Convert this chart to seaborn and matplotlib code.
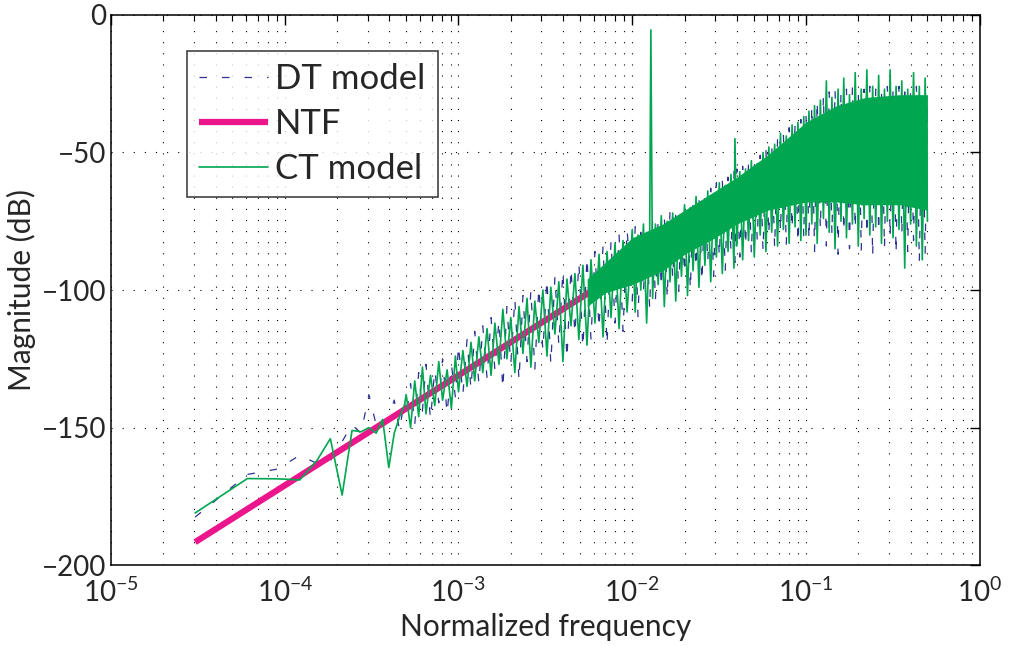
import matplotlib
matplotlib.use("Agg")
import matplotlib.pyplot as plt
import seaborn as sns
import pandas as pd

# ============================
# Dados (valores estimados)
# ============================
# primeiros bins da FFT (pontos isolados)
f_low = [3.05e-5, 6.1e-5, 9.16e-5, 1.22e-4, 1.53e-4, 1.83e-4, 2.14e-4, 2.44e-4,
         2.75e-4, 3.05e-4, 3.36e-4, 3.66e-4, 3.97e-4, 4.27e-4, 4.58e-4, 4.88e-4]
ct_low = [-181, -168.5, -168.6, -169, -162, -154, -174.5, -151,
          -151.5, -150, -152, -147, -164.5, -152, -146, -142]
dt_low = [-182.5, -167, -165, -160, -163, -162, -155, -149,
          -152, -138, -149, -150, -146, -140, -151, -140]

# faixa intermediária (5e-4 a 1e-2)
f_mid = [5.0e-4, 5.3e-4, 5.6e-4, 5.9e-4, 6.2e-4, 6.5e-4, 6.9e-4, 7.3e-4, 7.7e-4, 8.1e-4, 8.6e-4, 9.1e-4, 9.6e-4,
         1.00e-3, 1.06e-3, 1.12e-3, 1.18e-3, 1.24e-3, 1.31e-3, 1.38e-3, 1.46e-3, 1.54e-3, 1.62e-3, 1.71e-3,
         1.80e-3, 1.90e-3, 2.00e-3, 2.11e-3, 2.23e-3, 2.35e-3, 2.48e-3, 2.61e-3, 2.75e-3, 2.90e-3, 3.06e-3,
         3.23e-3, 3.40e-3, 3.59e-3, 3.78e-3, 3.99e-3, 4.21e-3, 4.44e-3, 4.68e-3, 4.93e-3, 5.20e-3, 5.49e-3,
         5.79e-3, 6.10e-3, 6.44e-3, 6.79e-3, 7.16e-3, 7.55e-3, 7.96e-3, 8.40e-3, 8.85e-3, 9.34e-3]
ct_mid = [-138, -150, -133, -146, -128, -145, -131, -142, -126, -140, -129, -143, -124,
          -137, -122, -135, -119, -133, -117, -130, -114, -131, -112, -127,
          -107, -125, -110, -130, -106, -123, -103, -128, -104, -119, -100,
          -124, -99, -116, -97, -126, -96, -113, -94, -118, -91, -120,
          -89, -112, -87, -117, -86, -110, -83, -114, -82, -108]
dt_mid = [-146, -134, -149, -130, -144, -127, -147, -129, -141, -125, -145, -127, -139,
          -120, -138, -118, -136, -115, -134, -113, -132, -110, -129, -111,
          -136, -106, -127, -103, -133, -102, -126, -100, -129, -99, -122,
          -96, -127, -95, -120, -93, -125, -92, -116, -90, -121, -88,
          -118, -86, -114, -84, -120, -82, -112, -80, -115, -78]

# faixa densa (1e-2 a 0.5)
f_hi = [1.00e-2, 1.04e-2, 1.08e-2, 1.12e-2, 1.16e-2, 1.21e-2, 1.26e-2, 1.28e-2, 1.31e-2, 1.36e-2,
        1.41e-2, 1.47e-2, 1.53e-2, 1.59e-2, 1.65e-2, 1.71e-2, 1.78e-2, 1.85e-2, 1.92e-2, 2.00e-2,
        2.08e-2, 2.16e-2, 2.24e-2, 2.33e-2, 2.42e-2, 2.52e-2, 2.62e-2, 2.72e-2, 2.83e-2, 2.94e-2,
        3.05e-2, 3.17e-2, 3.30e-2, 3.43e-2, 3.56e-2, 3.70e-2, 3.85e-2, 3.90e-2, 4.00e-2, 4.16e-2,
        4.32e-2, 4.49e-2, 4.67e-2, 4.85e-2, 5.04e-2, 5.24e-2, 5.45e-2, 5.66e-2, 5.88e-2, 6.11e-2,
        6.35e-2, 6.60e-2, 6.86e-2, 7.13e-2, 7.41e-2, 7.70e-2, 8.00e-2, 8.32e-2, 8.65e-2, 8.99e-2,
        9.34e-2, 9.71e-2,
        1.00e-1, 1.04e-1, 1.08e-1, 1.12e-1, 1.16e-1, 1.21e-1, 1.26e-1, 1.31e-1, 1.36e-1, 1.41e-1,
        1.47e-1, 1.53e-1, 1.59e-1, 1.65e-1, 1.71e-1, 1.78e-1, 1.85e-1, 1.92e-1, 2.00e-1, 2.08e-1,
        2.16e-1, 2.24e-1, 2.33e-1, 2.42e-1, 2.52e-1, 2.62e-1, 2.72e-1, 2.83e-1, 2.94e-1, 3.05e-1,
        3.17e-1, 3.30e-1, 3.43e-1, 3.56e-1, 3.70e-1, 3.85e-1, 4.00e-1, 4.16e-1, 4.32e-1, 4.49e-1,
        4.67e-1, 4.85e-1, 5.00e-1]
ct_hi = [-78, -108, -80, -100, -76, -112, -79, -5.5, -103, -76,
         -98, -73, -106, -75, -97, -72, -104, -74, -95, -69,
         -102, -70, -93, -66, -99, -68, -91, -64, -97, -65,
         -88, -61, -94, -62, -86, -58, -92, -45, -84, -57,
         -89, -56, -82, -53, -88, -54, -80, -50, -86, -48,
         -79, -47, -84, -43, -78, -44, -83, -40, -77, -39,
         -82, -37,
         -80, -35, -76, -33, -83, -31, -74, -24, -79, -30,
         -85, -27, -75, -23, -81, -29, -76, -21, -84, -27,
         -74, -20, -80, -26, -77, -22, -83, -27, -75, -20,
         -81, -26, -78, -24, -92, -27, -76, -21, -84, -26,
         -89, -23, -75]
dt_hi = [-104, -77, -110, -79, -101, -77, -107, -92, -75, -104,
         -74, -99, -73, -103, -71, -96, -72, -101, -70, -94,
         -69, -100, -67, -92, -66, -97, -64, -90, -63, -95,
         -61, -88, -60, -93, -59, -86, -57, -90, -56, -88,
         -55, -84, -54, -87, -52, -82, -51, -86, -49, -80,
         -47, -85, -45, -79, -43, -84, -41, -78, -40, -83,
         -38, -81,
         -36, -82, -33, -86, -31, -78, -29, -84, -28, -80,
         -27, -87, -28, -79, -27, -85, -26, -78, -28, -86,
         -27, -80, -26, -88, -27, -79, -28, -85, -26, -81,
         -27, -87, -26, -80, -28, -86, -27, -82, -26, -90,
         -27, -87, -30]

# núcleo sólido da faixa do modelo CT
f_core = [5.5e-3, 7e-3, 1e-2, 1.5e-2, 2e-2, 3e-2, 4e-2, 6e-2, 0.1, 0.15, 0.22, 0.35, 0.5]
ct_core_hi = [-96, -90, -81, -76, -71, -64, -59, -51, -39, -33, -30, -29, -29]
ct_core_lo = [-106, -101, -98, -93, -87, -81, -76, -71, -68, -68, -69, -69, -71]

# NTF
f_ntf = [3.05e-5, 1e-4, 1e-3, 5e-3, 1e-2, 0.1, 0.45]
ntf = [-191.6, -171, -131, -103, -91, -55, -44]

verde = "#00a650"
azul = "#2e3192"
rosa = "#ec168c"

sns.set_style("white")
plt.rcParams['font.family'] = ['Lato', 'DejaVu Sans']
plt.rcParams['mathtext.default'] = 'regular'

df_dt = pd.DataFrame({'f': f_low + f_mid + f_hi, 'v': dt_low + dt_mid + dt_hi})
df_ct = pd.DataFrame({'f': f_low + f_mid + f_hi, 'v': ct_low + ct_mid + ct_hi})
df_ntf = pd.DataFrame({'f': f_ntf, 'v': ntf})

fig = plt.figure(figsize=(10.09, 6.46), dpi=100)
ax = fig.add_axes([0.110, 0.125, 0.861, 0.852])
ax.set_xscale('log')

sns.lineplot(data=df_dt, x='f', y='v', estimator=None, sort=False, ax=ax,
             color=azul, linewidth=0.9, dashes=(6, 12), label='DT model')
sns.lineplot(data=df_ntf, x='f', y='v', estimator=None, sort=False, ax=ax,
             color=rosa, linewidth=4.5, solid_capstyle='butt', label='NTF')
ax.fill_between(f_core, ct_core_lo, ct_core_hi, color=verde, linewidth=0, zorder=3)
sns.lineplot(data=df_ct, x='f', y='v', estimator=None, sort=False, ax=ax,
             color=verde, linewidth=1.2, label='CT model', zorder=4)

ax.set_xlim(1e-5, 1)
ax.set_ylim(-200, 0)
ax.set_xticks([1e-5, 1e-4, 1e-3, 1e-2, 1e-1, 1])
ax.set_xticklabels(['$10^{-5}$', '$10^{-4}$', '$10^{-3}$', '$10^{-2}$', '$10^{-1}$', '$10^{0}$'])
ax.set_yticks([-200, -150, -100, -50, 0])

ax.grid(True, which='major', color='black', linestyle=(0, (1, 9)), linewidth=0.8)
ax.grid(True, which='minor', axis='x', color='black', linestyle=(0, (1, 9)), linewidth=0.8)
ax.tick_params(which='both', direction='in', top=True, right=True, labelsize=20, color='black')
ax.tick_params(axis='x', which='major', pad=9)
ax.tick_params(which='major', length=7, width=1)
ax.tick_params(which='minor', length=4, width=0.8)
for s in ax.spines.values():
    s.set_color('black')
    s.set_linewidth(1.1)

ax.set_xlabel('Normalized frequency', fontsize=21.5)
ax.set_ylabel('Magnitude (dB)', fontsize=21.5)

leg = ax.legend(loc='upper left', bbox_to_anchor=(0.087, 0.935), fontsize=25,
                frameon=True, fancybox=False, handlelength=2.0, borderaxespad=0,
                labelspacing=0.38, handletextpad=0.2, borderpad=0.35)
leg.get_frame().set_edgecolor('black')
leg.get_frame().set_linewidth(1.1)

plt.savefig("out.png", dpi=100)
plt.close()
